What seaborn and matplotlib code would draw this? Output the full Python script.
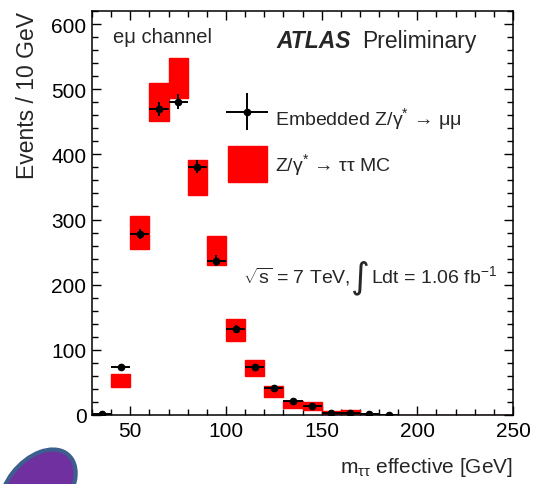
import numpy as np
import pandas as pd
import seaborn as sns
import matplotlib
matplotlib.use("Agg")
import matplotlib.pyplot as plt
from matplotlib.patches import Patch, Ellipse
from matplotlib.container import ErrorbarContainer
from matplotlib.legend_handler import HandlerErrorbar

# ---- data ----
bin_low = [30, 40, 50, 60, 70, 80, 90, 100, 110, 120, 130, 140, 150, 160, 170, 180,
           190, 200, 210, 220, 230, 240]
mc_value = [1, 53, 280, 480, 517, 364, 252, 131, 72, 36, 16, 14, 3, 4, 1, 0.3,
            0, 0, 0, 0, 0, 0]
mc_error = [1, 10, 25, 29, 31, 27, 22, 17, 12, 8, 6, 6, 3, 3, 1, 0.3,
            0, 0, 0, 0, 0, 0]
data_center = [35, 45, 55, 65, 75, 85, 95, 105, 115, 125, 135, 145, 155, 165, 175, 185]
data_value = [2, 74, 278, 470, 481, 381, 237, 132, 74, 41, 21, 14, 3, 3, 1, 0.5]
data_error = [1, 4, 8, 11, 11, 10, 8, 6, 4, 3, 2, 2, 1, 1, 0.5, 0.5]
bin_width = 10

sns.set_theme(style="ticks")
plt.rcParams["font.family"] = ["Liberation Sans", "DejaVu Sans"]
plt.rcParams["mathtext.fontset"] = "custom"
plt.rcParams["mathtext.rm"] = "Liberation Sans"
plt.rcParams["mathtext.it"] = "Liberation Sans:italic"
plt.rcParams["mathtext.bf"] = "Liberation Sans:bold"

fig = plt.figure(figsize=(5.34, 4.85), dpi=100)
ax = fig.add_axes([92 / 534, 1 - 416 / 485, 421 / 534, 404 / 485])

mc = pd.DataFrame({"lo": bin_low, "val": mc_value, "err": mc_error})
ax.bar(mc["lo"], 2 * mc["err"], bottom=mc["val"] - mc["err"], width=bin_width,
       align="edge", color="#ff0000", edgecolor="#ff0000", linewidth=1.0, zorder=2)

dd = pd.DataFrame({"x": data_center, "y": data_value, "e": data_error})
eb = ax.errorbar(dd["x"], dd["y"], xerr=bin_width / 2, yerr=dd["e"], fmt="o",
                 color="black", markersize=4.5, ecolor="black", elinewidth=1.4,
                 capsize=0, zorder=4)
sns.scatterplot(data=dd, x="x", y="y", ax=ax, color="black", s=22,
                edgecolor="black", linewidth=0, zorder=5, legend=False)

ax.set_xlim(30, 250)
ax.set_ylim(0, 620)
ax.set_xticks([50, 100, 150, 200, 250])
ax.set_xticks(np.arange(30, 251, 10), minor=True)
ax.set_yticks([0, 100, 200, 300, 400, 500, 600])
ax.set_yticks(np.arange(0, 621, 20), minor=True)
ax.tick_params(which="both", direction="in", top=True, right=True,
               labelsize=15, width=1.0, colors="black", pad=4)
ax.tick_params(which="major", length=6.5)
ax.tick_params(which="minor", length=4)
for s in ax.spines.values():
    s.set_linewidth(1.1)
    s.set_color("black")

ax.set_xlabel(r"m$_{\mathrm{ττ}}$ effective [GeV]", fontsize=15, loc="right", labelpad=11)
ax.set_ylabel("Events / 10 GeV", fontsize=16.5, loc="top", labelpad=9)

# legend
legend_handles = [eb, Patch(facecolor="#ff0000", edgecolor="#ff0000")]
legend_labels = [r"Embedded Z/γ$^{*}$ → μμ", r"Z/γ$^{*}$ → ττ MC"]
ax.legend(legend_handles, legend_labels, loc="upper left",
          bbox_to_anchor=(0.323, 0.780), frameon=False, fontsize=14,
          handlelength=2.0, handleheight=2.48, handletextpad=0.41,
          labelspacing=0.535, borderpad=0, borderaxespad=0,
          handler_map={ErrorbarContainer: HandlerErrorbar(xerr_size=1.08, yerr_size=0.95)})

ax.text(0.05, 0.936, "eμ channel", transform=ax.transAxes, fontsize=14.5,
        va="center", ha="left")
ax.text(0.439, 0.926, "ATLAS", transform=ax.transAxes, fontsize=16.5,
        fontweight="bold", fontstyle="italic", va="center", ha="left")
ax.text(0.641, 0.926, "Preliminary", transform=ax.transAxes, fontsize=16.5,
        va="center", ha="left")
ax.text(0.3587, 0.329, r"$\sqrt{\mathrm{s}}$ = 7 TeV,", transform=ax.transAxes,
        fontsize=14, va="baseline", ha="left")
ax.text(0.616, 0.343, "∫", transform=ax.transAxes, fontsize=26,
        family=["DejaVu Sans"], va="center", ha="left")
ax.text(0.662, 0.329, r"Ldt = 1.06 fb$^{\mathrm{-1}}$", transform=ax.transAxes,
        fontsize=14, va="baseline", ha="left")

# decorative purple shape at bottom-left of the reference
fig.patches.append(Ellipse((38 / 534, 1 - 490 / 485), 62 / 534, 88 / 485, angle=-35,
                           transform=fig.transFigure, facecolor="#7030a0",
                           edgecolor="#3d5f8f", linewidth=3, zorder=0))

fig.savefig("out.png", dpi=100)
